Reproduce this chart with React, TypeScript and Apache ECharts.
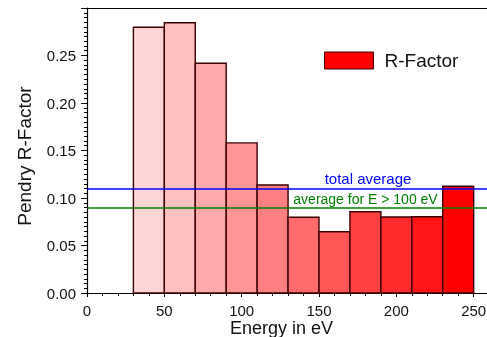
import React, { useEffect, useRef } from "react";
import * as echarts from "echarts";

const binStarts = [30, 50, 70, 90, 110, 130, 150, 170, 190, 210, 230];
const binEnds = [50, 70, 90, 110, 130, 150, 170, 190, 210, 230, 250];
const rFactors = [0.2797, 0.2845, 0.2418, 0.158, 0.1137, 0.0797, 0.0645, 0.0856, 0.08, 0.0803, 0.1123];
const totalAverage = 0.1098;
const highEnergyAverage = 0.0887;
const xTicks = [0, 50, 100, 150, 200, 250];

const barColors = ["#ffd5d5", "#ffc0c0", "#ffaaaa", "#ff9595", "#ff8080", "#ff6b6b", "#ff5555", "#ff4040", "#ff2b2b", "#ff1515", "#ff0000"];
const FONT = "Liberation Sans, Arial, sans-serif";

export default function App() {
  const ref = useRef<HTMLDivElement>(null);
  useEffect(() => {
    const chart = echarts.init(ref.current!, null, { renderer: "svg" });
    const data = binStarts.map((s, i) => [s, binEnds[i], rFactors[i]]);
    chart.setOption({
      animation: false,
      grid: { left: 87, top: 8, width: 464, height: 285, containLabel: false, outerBoundsMode: "none" },
      legend: {
        left: 324,
        top: 51,
        padding: 0,
        itemWidth: 49,
        itemHeight: 17,
        icon: "rect",
        data: [{ name: "R-Factor", itemStyle: { color: "#ff0000", borderColor: "#3d0000", borderWidth: 1 } }],
        textStyle: { fontFamily: FONT, fontSize: 19, color: "#111", padding: [0, 0, 0, 6] },
      },
      xAxis: [
        {
          type: "value",
          min: 0,
          max: 300,
          interval: 50,
          axisLine: { show: true, lineStyle: { color: "#000", width: 1.2 } },
          axisTick: { show: true, length: 4, lineStyle: { color: "#000" } },
          minorTick: { show: true, splitNumber: 5, length: 3, lineStyle: { color: "#000" } },
          splitLine: { show: false },
          axisLabel: {
            margin: 10,
            fontFamily: FONT,
            fontSize: 15,
            color: "#111",
            formatter: (v: number) => (xTicks.indexOf(v) >= 0 ? String(v) : ""),
          },
        },
        {
          type: "value",
          position: "top",
          min: 0,
          max: 300,
          axisLine: { show: true, onZero: false, lineStyle: { color: "#000", width: 1.2 } },
          axisTick: { show: false },
          axisLabel: { show: false },
          splitLine: { show: false },
        },
      ],
      yAxis: {
        type: "value",
        min: 0,
        max: 0.3,
        interval: 0.05,
        axisLine: { show: true, lineStyle: { color: "#000", width: 1.2 } },
        axisTick: { show: true, length: 6, lineStyle: { color: "#000" } },
        minorTick: { show: true, splitNumber: 10, length: 3, lineStyle: { color: "#000" } },
        splitLine: { show: false },
        axisLabel: {
          margin: 11,
          fontFamily: FONT,
          fontSize: 15,
          color: "#111",
          showMaxLabel: false,
          formatter: (v: number) => v.toFixed(2),
        },
      },
      series: [
        {
          name: "R-Factor",
          type: "custom",
          xAxisIndex: 0,
          itemStyle: { color: "#ff0000" },
          encode: { x: [0, 1], y: 2 },
          data,
          renderItem: (params: any, api: any) => {
            const p0 = api.coord([api.value(0), api.value(2)]);
            const p1 = api.coord([api.value(1), 0]);
            return {
              type: "rect",
              shape: { x: p0[0], y: p0[1], width: p1[0] - p0[0], height: p1[1] - p0[1] },
              style: { fill: barColors[params.dataIndex], stroke: "#3a0000", lineWidth: 1.4 },
            };
          },
          markLine: {
            silent: true,
            symbol: "none",
            label: { show: false },
            data: [
              { yAxis: totalAverage, lineStyle: { color: "#0000ff", width: 1.6, type: "solid" } },
              { yAxis: highEnergyAverage, lineStyle: { color: "#008000", width: 1.6, type: "solid" } },
            ],
          },
        },
      ],
      graphic: [
        {
          type: "text",
          x: 368,
          y: 178,
          style: { text: "total average", fill: "#0000ff", font: `15px ${FONT}`, textAlign: "center", textVerticalAlign: "middle" },
        },
        {
          type: "text",
          x: 365.5,
          y: 199,
          style: { text: "average for E > 100 eV", fill: "#008000", font: `14px ${FONT}`, textAlign: "center", textVerticalAlign: "middle" },
        },
        {
          type: "text",
          x: 281.5,
          y: 328,
          style: { text: "Energy in eV", fill: "#111", font: `18px ${FONT}`, textAlign: "center", textVerticalAlign: "middle" },
        },
        {
          type: "text",
          x: 24,
          y: 156,
          rotation: Math.PI / 2,
          style: { text: "Pendry R-Factor", fill: "#111", font: `19px ${FONT}`, textAlign: "center", textVerticalAlign: "middle" },
        },
      ],
    });
    return () => chart.dispose();
  }, []);
  return <div ref={ref} style={{ position: "fixed", left: 0, top: 0, width: 487, height: 337 }} />;
}
